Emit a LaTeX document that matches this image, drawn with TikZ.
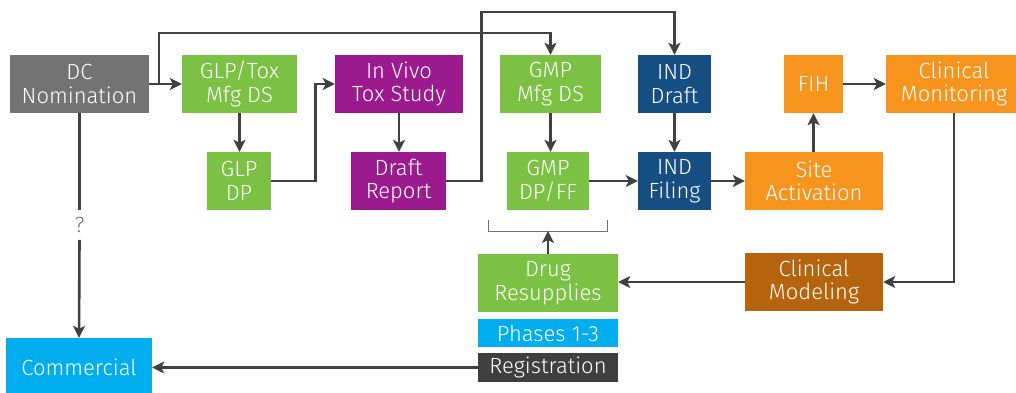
\documentclass[tikz,border=0pt]{standalone}
\usepackage{fontspec}
\setmainfont{Fira Sans Light}
\usetikzlibrary{arrows.meta,calc}

\definecolor{dcgray}{HTML}{737373}
\definecolor{glpgreen}{HTML}{7BC143}
\definecolor{toxpurple}{HTML}{9B1B8E}
\definecolor{indnavy}{HTML}{154F82}
\definecolor{clinorange}{HTML}{F7941E}
\definecolor{modbrown}{HTML}{B5630D}
\definecolor{comcyan}{HTML}{00AEEF}
\definecolor{regdark}{HTML}{3F3F3F}
\definecolor{linkgray}{HTML}{404040}
\definecolor{brkgray}{HTML}{707070}

\begin{document}
\begin{tikzpicture}[x=1pt,y=-1pt,
  label font/.style={font=\fontsize{22}{23.5}\selectfont},
  box/.style={fill=#1, text=white, minimum height=58pt, inner sep=0pt,
    align=center, label font},
  band/.style={fill=#1, text=white, minimum width=140pt, inner sep=0pt,
    align=center, label font},
  arr/.style={draw=linkgray, line width=2.6pt,
    -{Stealth[length=12pt,width=12pt,inset=3pt]}},
  link/.style={draw=linkgray, line width=2.6pt},
  bracket/.style={draw=brkgray, line width=1pt}]

\useasboundingbox (0,0) rectangle (1016,392);

% preclinical column
\node[box=dcgray, minimum width=139pt] (dc) at (79.5,84) {DC\\Nomination};
\node[box=glpgreen, minimum width=115pt] (glptox) at (239.5,84) {GLP/Tox\\Mfg DS};
\node[box=glpgreen, minimum width=64pt] (glpdp) at (239,181) {GLP\\DP};
\node[box=toxpurple, minimum width=128pt] (invivo) at (399,84) {In Vivo\\Tox Study};
\node[box=toxpurple, minimum width=95pt] (draft) at (398.5,181) {Draft\\Report};

% GMP manufacturing
\node[box=glpgreen, minimum width=101pt] (gmpds) at (550.5,84) {GMP\\Mfg DS};
\node[box=glpgreen, minimum width=82pt] (gmpdp) at (548,181) {GMP\\DP/FF};

% IND
\node[box=indnavy, minimum width=73pt] (inddraft) at (674.5,84) {IND\\Draft};
\node[box=indnavy, minimum width=73pt] (indfiling) at (674.5,181) {IND\\Filing};

% clinical
\node[box=clinorange, minimum width=138pt] (site) at (814,181) {Site\\Activation};
\node[box=clinorange, minimum width=59pt] (fih) at (813.5,84) {FIH};
\node[box=clinorange, minimum width=136pt] (clinmon) at (954,84) {Clinical\\Monitoring};
\node[box=modbrown, minimum width=138pt] (clinmod) at (814,282) {Clinical\\Modeling};

% supply and registration stack
\node[box=glpgreen, minimum width=140pt] (drug) at (548,283) {Drug\\Resupplies};
\node[band=comcyan, minimum height=28pt] (phases) at (548,333) {Phases 1-3};
\node[band=regdark, minimum height=29pt] (reg) at (548,367.5) {Registration};
\node[box=comcyan, minimum width=146pt] (commercial) at (79,367) {Commercial};

% uncertain direct route
\node[text=dcgray, inner xsep=0pt, inner ysep=7pt, label font] (q) at (79.5,225) {?};

% bracket over the GMP drug product
\draw[bracket] (488,220) -- (488,231) -- (607,231) -- (607,220);
\coordinate (brk) at (548,231);

% connectors
\coordinate (split) at (159,84);
\draw[arr] (dc.east) -- (glptox.west);
\draw[arr] (split) |- ($(gmpds.north)+(0,-22)$) -- (gmpds.north);
\draw[arr] (glptox.south) -- (glptox.south |- glpdp.north);
\draw[arr] (glpdp.east) -- ++(44,0) |- (invivo.west);
\draw[arr] (invivo.south) -- (invivo.south |- draft.north);
\draw[arr] (draft.east) -- ++(35,0) |- ($(inddraft.north)+(0,-43)$) -- (inddraft.north);
\draw[arr] (gmpds.south) -- (gmpds.south |- gmpdp.north);
\draw[arr] (gmpdp.east) -- (indfiling.west);
\draw[arr] (inddraft.south) -- (indfiling.north);
\draw[arr] (indfiling.east) -- (site.west);
\draw[arr] (site.north -| fih.south) -- (fih.south);
\draw[arr] (fih.east) -- (clinmon.west);
\draw[arr] (clinmon.south) |- (clinmod.east);
\draw[arr] (clinmod.west) -- (clinmod.west -| drug.east);
\draw[arr] (drug.north) -- (brk);
\draw[arr] (reg.west) -- (reg.west -| commercial.east);
\draw[link] (dc.south) -- (q.north);
\draw[arr] (q.south) -- (commercial.north);

\end{tikzpicture}
\end{document}
